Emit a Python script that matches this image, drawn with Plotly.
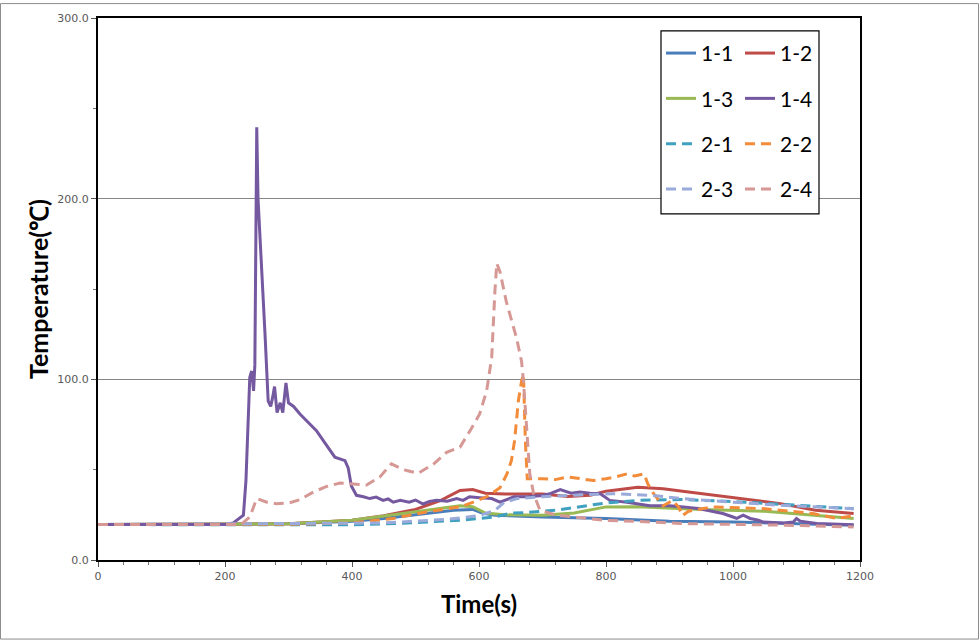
import plotly.graph_objects as go

# ---- data (time in s, temperature in deg C) ----
time_1_1 = [0, 200, 300, 400, 450, 500, 560, 590, 605, 625, 700, 800, 900, 1000, 1100, 1190]
temp_1_1 = [19.6, 19.6, 20.0, 21.5, 23.0, 25.0, 27.5, 28.0, 26.0, 24.8, 23.8, 23.0, 21.5, 21.0, 20.2, 19.3]

time_1_2 = [0, 300, 400, 450, 500, 540, 570, 590, 610, 640, 700, 740, 775, 800, 850, 890, 930, 970, 1020, 1075, 1130, 1190]
temp_1_2 = [19.6, 20.0, 22.0, 24.5, 28.0, 33.0, 38.5, 39.0, 37.0, 36.5, 36.5, 35.2, 35.8, 38.0, 40.3, 39.4, 37.6, 35.8, 33.5, 31.2, 27.5, 25.7]

time_1_3 = [0, 300, 400, 500, 570, 590, 610, 640, 700, 750, 800, 850, 950, 1050, 1130, 1190]
temp_1_3 = [19.6, 20.0, 22.0, 26.5, 30.0, 29.5, 26.0, 25.0, 24.8, 26.0, 29.4, 29.5, 28.0, 27.0, 24.8, 23.0]

time_1_4 = [0, 200, 213, 229, 233, 237, 239, 242, 245, 247,
            250, 252, 258, 263, 268, 272, 275, 278, 282, 287,
            291, 296, 300, 308, 318, 329, 344, 357, 373, 389,
            394, 399, 407, 418, 428, 438, 449, 457, 465, 476,
            490, 500, 512, 522, 533, 550, 565, 575, 585, 601,
            620, 633, 640, 655, 675, 696, 710, 728, 745, 759,
            775, 791, 806, 833, 869, 900, 922, 945, 959, 984,
            1000, 1006, 1016, 1027, 1040, 1048, 1080, 1095, 1100, 1106,
            1132, 1160, 1190]
temp_1_4 = [19.6, 19.6, 20.5, 24.8, 44.0, 84.0, 101.0, 104.6, 93.6, 108.0,
            239.5, 200.0, 161.0, 125.0, 88.0, 85.0, 90.0, 96.0, 81.6, 87.0,
            81.6, 98.0, 87.0, 85.0, 80.8, 77.0, 71.6, 65.0, 56.9, 55.0,
            51.0, 41.0, 35.8, 35.0, 34.0, 34.8, 33.0, 33.8, 32.0, 33.0,
            32.0, 33.2, 31.0, 32.4, 33.0, 32.5, 34.0, 33.0, 35.0, 34.5,
            34.0, 32.0, 33.0, 35.0, 35.0, 35.5, 36.5, 39.0, 37.0, 37.6,
            37.0, 36.7, 33.0, 32.0, 30.0, 30.0, 29.4, 28.5, 27.5, 25.7,
            23.8, 23.0, 24.8, 23.0, 22.0, 21.0, 20.5, 21.0, 23.0, 21.5,
            20.2, 20.0, 19.5]

time_2_1 = [0, 400, 470, 520, 570, 600, 625, 650, 670, 720, 770, 800, 850, 920, 1020, 1120, 1190]
temp_2_1 = [19.6, 19.5, 20.2, 21.0, 22.0, 23.0, 23.8, 26.0, 26.2, 27.5, 30.3, 31.6, 33.0, 33.5, 32.0, 29.8, 28.4]

time_2_2 = [0, 300, 400, 465, 517, 570, 591, 612, 633, 644,
            651, 656, 662, 667, 670, 673, 676, 700, 720, 740,
            760, 780, 800, 815, 833, 845, 860, 866, 875, 890,
            905, 915, 920, 930, 968, 1050, 1126, 1163, 1190]
temp_2_2 = [19.6, 19.8, 20.5, 23.0, 26.6, 29.4, 32.0, 35.0, 40.0, 47.7,
            55.0, 66.0, 88.0, 99.0, 102.8, 66.0, 45.0, 45.0, 44.5, 46.0,
            45.0, 44.0, 45.0, 46.0, 47.7, 46.5, 47.7, 42.0, 36.7, 30.0,
            33.0, 29.0, 24.5, 27.0, 29.4, 28.4, 25.7, 23.0, 24.5]

time_2_3 = [0, 450, 550, 600, 625, 640, 660, 700, 760, 810, 870, 920, 1000, 1075, 1190]
temp_2_3 = [19.6, 20.5, 22.5, 24.5, 27.5, 32.0, 34.0, 35.0, 36.0, 36.7, 35.8, 34.0, 32.0, 30.3, 28.4]

time_2_4 = [0, 225, 239, 245, 250, 266, 281, 302, 318, 339,
            360, 381, 402, 423, 444, 462, 475, 486, 504, 528,
            549, 570, 586, 601, 612, 620, 625, 628, 633, 643,
            659, 667, 670, 675, 680, 686, 696, 720, 796, 874,
            917, 1074, 1190]
temp_2_4 = [19.6, 19.6, 23.8, 30.0, 34.0, 32.0, 31.2, 31.7, 33.4, 37.6,
            40.7, 42.6, 42.2, 41.5, 46.0, 53.2, 51.0, 49.5, 48.0, 53.0,
            59.6, 62.4, 71.6, 80.8, 93.6, 112.0, 148.6, 164.2, 159.6, 143.0,
            123.0, 110.0, 99.0, 73.4, 47.7, 36.7, 27.5, 25.0, 22.0, 21.0,
            20.2, 19.3, 18.3]

series_names = ["1-1", "1-2", "1-3", "1-4", "2-1", "2-2", "2-3", "2-4"]
x_ticks = [0, 200, 400, 600, 800, 1000, 1200]
y_ticks = [0, 100, 200, 300]

DASH = "10px,6px"
series = [
    ("1-1", time_1_1, temp_1_1, "#4A7EBB", "solid", "legend"),
    ("1-2", time_1_2, temp_1_2, "#BE4B48", "solid", "legend2"),
    ("1-3", time_1_3, temp_1_3, "#98B954", "solid", "legend"),
    ("1-4", time_1_4, temp_1_4, "#7458A0", "solid", "legend2"),
    ("2-1", time_2_1, temp_2_1, "#3FA0C0", DASH, "legend"),
    ("2-2", time_2_2, temp_2_2, "#F28C3A", DASH, "legend2"),
    ("2-3", time_2_3, temp_2_3, "#9AAADA", DASH, "legend"),
    ("2-4", time_2_4, temp_2_4, "#D69895", DASH, "legend2"),
]

fig = go.Figure()
for name, t, v, color, dash, leg in series:
    fig.add_trace(go.Scatter(
        x=t, y=v, mode="lines", name=name, legend=leg, legendgroup=name,
        line=dict(color=color, width=3, dash=dash),
        hoverinfo="skip",
    ))

W, H = 979, 640
L, R, T, B = 98, 119, 15, 80
pw, ph = W - L - R, H - T - B

def px_x(p):
    return (p - L) / pw

def px_y(p):
    return (H - B - p) / ph

legend_font = dict(family="Lato, Carlito, sans-serif", size=21, color="black")
fig.update_layout(
    width=W, height=H,
    margin=dict(l=L, r=R, t=T, b=B),
    paper_bgcolor="white", plot_bgcolor="white",
    showlegend=True,
    legend=dict(x=px_x(661), y=px_y(30), xanchor="left", yanchor="top",
                bgcolor="rgba(0,0,0,0)", borderwidth=0, font=legend_font,
                tracegroupgap=15, itemwidth=30),
    legend2=dict(x=px_x(740), y=px_y(30), xanchor="left", yanchor="top",
                 bgcolor="rgba(0,0,0,0)", borderwidth=0, font=legend_font,
                 tracegroupgap=15, itemwidth=30),
    xaxis=dict(
        range=[0, 1200], tickvals=x_ticks, ticks="outside", ticklen=5, tickcolor="#555",
        minor=dict(dtick=40, ticks="outside", ticklen=3, tickcolor="#777"),
        showline=True, linecolor="black", linewidth=2, mirror=True,
        showgrid=False, zeroline=False,
        tickfont=dict(family="DejaVu Sans", size=11, color="#595959"),
        title=dict(text="<b>Time(s)</b>", standoff=14,
                   font=dict(family="Lato, sans-serif", size=24, color="black")),
    ),
    yaxis=dict(
        range=[0, 300], tickvals=y_ticks, tickformat=".1f", ticks="outside", ticklen=5,
        tickcolor="#555",
        minor=dict(dtick=50, ticks="outside", ticklen=3, tickcolor="#777", showgrid=False),
        showline=True, linecolor="black", linewidth=2, mirror=True,
        showgrid=True, gridcolor="#868686", gridwidth=1, zeroline=False,
        tickfont=dict(family="DejaVu Sans", size=11, color="#595959"),
        title=dict(text="<b>Temperature(℃)</b>", standoff=2,
                   font=dict(family="Lato, sans-serif", size=25, color="black")),
    ),
    shapes=[
        dict(type="rect", xref="paper", yref="paper",
             x0=px_x(661), x1=px_x(819), y0=px_y(212), y1=px_y(28),
             line=dict(color="black", width=1.2), fillcolor="white", layer="above"),
        dict(type="rect", xref="paper", yref="paper",
             x0=px_x(0.5), x1=px_x(978.5), y0=px_y(639.5), y1=px_y(0.5),
             line=dict(color="#8C8C8C", width=1), fillcolor="rgba(0,0,0,0)", layer="above"),
    ],
)

fig.write_html("out.html")
